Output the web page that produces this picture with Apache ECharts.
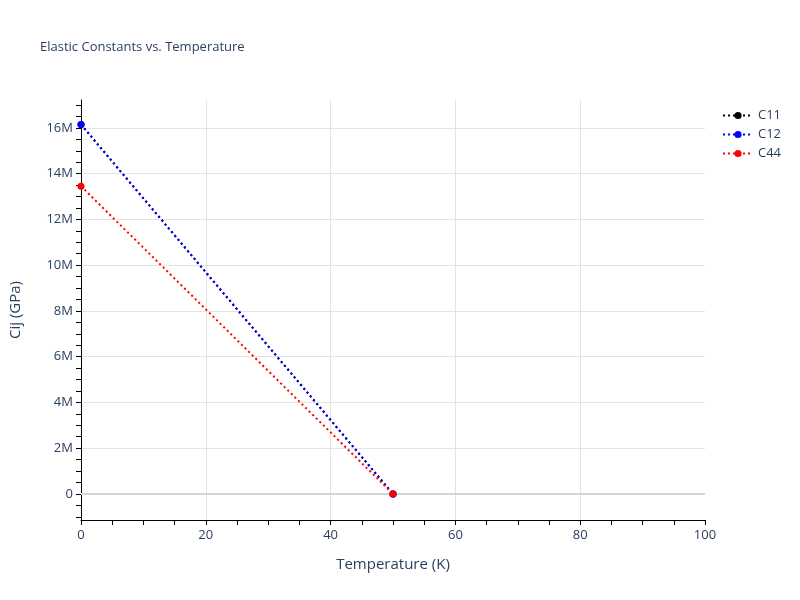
<!DOCTYPE html>
<html>
<head>
<meta charset="utf-8">
<script src="https://cdn.jsdelivr.net/npm/echarts@6/dist/echarts.min.js"></script>
<style>html,body{margin:0;padding:0;background:#fff}#c{width:800px;height:600px}</style>
</head>
<body>
<div id="c"></div>
<script>
const temperatures = [0, 50];
const c11 = [16.15e6, 0];
const c12 = [16.15e6, 0];
const c44 = [13.45e6, 0];
const seriesNames = ['C11', 'C12', 'C44'];
const yLabelValues = [0, 2e6, 4e6, 6e6, 8e6, 10e6, 12e6, 14e6, 16e6];
const yTickValues = [-1e6, -0.5e6, 0, 0.5e6, 1e6, 1.5e6, 2e6, 2.5e6, 3e6, 3.5e6, 4e6, 4.5e6, 5e6, 5.5e6, 6e6, 6.5e6, 7e6, 7.5e6, 8e6, 8.5e6, 9e6, 9.5e6, 10e6, 10.5e6, 11e6, 11.5e6, 12e6, 12.5e6, 13e6, 13.5e6, 14e6, 14.5e6, 15e6, 15.5e6, 16e6, 16.5e6, 17e6];

const font = '"Open Sans", "Noto Sans", sans-serif';
const txt = '#2a3f5f';
const yMin = -1.14e6, yMax = 17.22e6;

function mk(name, vals, color) {
  return {
    name: name, type: 'line',
    data: temperatures.map((t, i) => [t, vals[i]]),
    symbol: 'circle', symbolSize: 7,
    itemStyle: { color: color },
    lineStyle: { color: color, width: 2, type: [2, 3] },
    clip: true,
    z: 3
  };
}

const chart = echarts.init(document.getElementById('c'));
const series = [mk(seriesNames[0], c11, '#000000'), mk(seriesNames[1], c12, '#0000ff'), mk(seriesNames[2], c44, '#ff0000')];
series[0].markLine = {
  silent: true, symbol: 'none', label: { show: false },
  lineStyle: { color: '#d4d4d4', width: 2, type: 'solid' },
  data: [{ yAxis: 0 }], z: 1
};
chart.setOption({
  backgroundColor: '#fff',
  animation: false,
  title: {
    text: 'Elastic Constants vs. Temperature', left: 35, top: 36,
    textStyle: { fontFamily: font, fontSize: 13, fontWeight: 'normal', color: txt }
  },
  legend: {
    orient: 'vertical', left: 717, top: 104, itemGap: 6, itemWidth: 30, itemHeight: 9,
    textStyle: { fontFamily: font, fontSize: 13, color: txt },
    data: seriesNames
  },
  grid: { left: 80, right: 95, top: 100, bottom: 80, containLabel: false },
  xAxis: {
    type: 'value', min: 0, max: 100, interval: 20,
    name: 'Temperature (K)', nameLocation: 'middle', nameGap: 37,
    nameTextStyle: { fontFamily: font, fontSize: 15, color: txt },
    axisLine: { show: true, onZero: false, lineStyle: { color: '#000', width: 1 } },
    axisTick: { show: true, inside: false, length: 5, lineStyle: { color: '#000' } },
    minorTick: { show: true, splitNumber: 4, length: 5, lineStyle: { color: '#000' } },
    axisLabel: { fontFamily: font, fontSize: 13, color: txt, margin: 9 },
    splitLine: { show: true, showMinLine: false, showMaxLine: false, lineStyle: { color: '#e3e3e3', width: 1 } }
  },
  yAxis: [{
    type: 'value', min: yMin, max: yMax,
    name: 'Cij (GPa)', nameLocation: 'middle', nameGap: 58,
    nameTextStyle: { fontFamily: font, fontSize: 15, color: txt },
    axisLine: { show: true, onZero: false, lineStyle: { color: '#000', width: 1 } },
    axisTick: { show: true, inside: false, length: 5, lineStyle: { color: '#000' }, customValues: yTickValues },
    axisLabel: {
      fontFamily: font, fontSize: 13, color: txt, margin: 8, customValues: yLabelValues,
      formatter: v => v === 0 ? '0' : (v / 1e6) + 'M'
    },
    splitLine: { show: false }
  }, {
    type: 'value', min: yMin, max: yMax, position: 'left',
    axisLine: { show: false },
    axisTick: { show: false, customValues: yLabelValues },
    axisLabel: { show: false, customValues: yLabelValues },
    splitLine: { show: true, lineStyle: { color: '#e3e3e3', width: 1 } }
  }],
  series: series
});
</script>
</body>
</html>
